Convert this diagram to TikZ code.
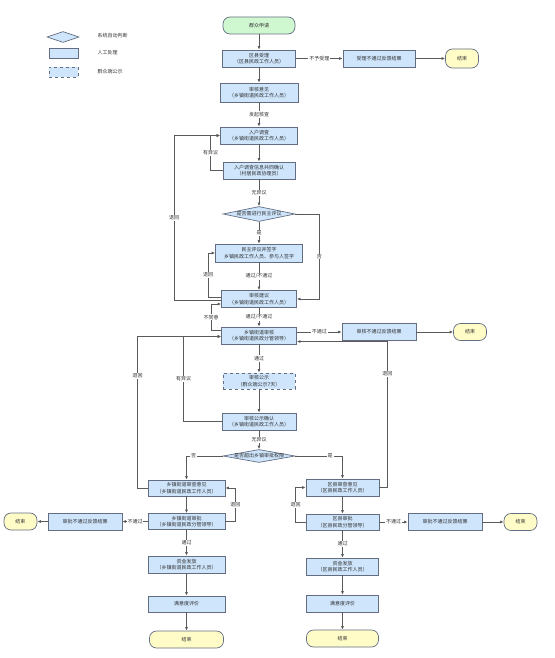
\documentclass[tikz,border=0pt]{standalone}
\usepackage{fontspec}
\setmainfont{Noto Sans CJK SC}
\usetikzlibrary{arrows.meta,shapes.geometric}
\definecolor{boxfill}{RGB}{206,229,252}
\definecolor{boxline}{RGB}{100,110,130}
\definecolor{startfill}{RGB}{208,248,208}
\definecolor{endfill}{RGB}{255,252,200}
\definecolor{flowline}{RGB}{90,90,90}
\definecolor{txt}{RGB}{50,50,50}
\begin{document}
\begin{tikzpicture}[x=1pt,y=-1pt,
  font=\fontsize{5}{6.5}\selectfont, text=txt,
  proc/.style={draw=boxline, fill=boxfill, line width=0.7pt, minimum width=#1, minimum height=17pt, inner sep=0pt, align=center},
  proc/.default=76pt,
  pub/.style={proc=72pt, dashed},
  term/.style={draw=boxline, line width=0.7pt, rounded corners=7pt, minimum width=#1, minimum height=17pt, inner sep=0pt},
  term/.default=33pt,
  judge/.style={diamond, draw=boxline, fill=boxfill, line width=0.7pt, minimum width=72pt, minimum height=14pt, inner sep=0pt},
  lbl/.style={fill=white, inner sep=0.8pt},
  flow/.style={draw=flowline, line width=0.7pt, -{Latex[length=3.5pt,width=3pt]}}]
\useasboundingbox (0,0) rectangle (554,658);

% legend
\node[judge, minimum width=32pt, minimum height=11pt] (legdia) at (63,37) {};
\node[anchor=west] (legdiatext) at (94,36) {系统自动判断};
\node[proc=29pt, minimum height=10pt] (legbox) at (63.5,53) {};
\node[anchor=west] (legboxtext) at (94,53) {人工处理};
\node[pub, minimum width=29pt, minimum height=10pt] (legpub) at (63.5,72) {};
\node[anchor=west] (legpubtext) at (94,72) {群众端公示};

% main column
\node[term=72pt, fill=startfill] (apply) at (259,25.5) {群众申请};
\node[proc=73pt] (accept) at (259,58.5) {区县受理\\（区县民政工作人员）};
\node[proc=72pt] (rejA) at (379,58.5) {受理不通过反馈结果};
\node[term, fill=endfill, minimum height=19pt] (endA) at (462,58.5) {结束};
\node[proc=78pt, minimum height=19pt] (opinion) at (259,92.5) {审核意见\\（乡镇街道民政工作人员）};
\node[proc=77pt] (visit) at (259,135.5) {入户调查\\（乡镇街道民政工作人员）};
\node[proc=72pt] (confirm) at (259,170.5) {入户调查信息共同确认\\（村居民政协理员）};
\node[judge, minimum height=15pt] (needvote) at (259,214) {\makebox[0pt]{是否需进行民主评议}};
\node[proc=87pt, minimum height=18pt] (vote) at (259,253) {民主评议并签字\\乡镇民政工作人员、参与人签字};
\node[proc=75pt] (advice) at (259,299) {审核建议\\（乡镇街道民政工作人员）};
\node[proc=75pt, minimum height=17pt] (townrev) at (259,335.5) {乡镇街道审核\\（乡镇街道民政分管领导）};
\node[proc=74pt] (rejB) at (379,332) {审核不通过反馈结果};
\node[term, fill=endfill] (endB) at (470,332) {结束};
\node[pub, minimum height=16pt] (publish) at (259,381) {审核公示\\（群众端公示7天）};
\node[proc=74pt] (pubconf) at (259,421.5) {审核公示确认\\（乡镇街道民政工作人员）};
\node[judge, minimum height=13pt] (limit) at (259,456) {\makebox[0pt]{是否超出乡镇审批权限}};

% town branch
\node[proc=77pt, minimum height=16pt] (townop) at (186.5,488) {乡镇街道审查意见\\（乡镇街道民政工作人员）};
\node[proc=77pt, minimum height=16pt] (townok) at (186.5,521.5) {乡镇街道审批\\（乡镇街道民政分管领导）};
\node[proc=74pt] (rejC) at (85,521.5) {审批不通过反馈结果};
\node[term, fill=endfill] (endC) at (20.5,521.5) {结束};
\node[proc=77pt] (payT) at (186.5,564.5) {资金发放\\（乡镇街道民政工作人员）};
\node[proc=77pt, minimum height=16pt] (rateT) at (186.5,604) {满意度评价};
\node[term=74pt, fill=endfill] (endT) at (186.5,639.5) {结束};

% county branch
\node[proc=73pt] (cntyop) at (342.5,487.5) {区县审查意见\\（区县民政工作人员）};
\node[proc=73pt, minimum height=16pt] (cntyok) at (342.5,522) {区县审批\\（区县民政分管领导）};
\node[proc=74pt] (rejD) at (445,522) {审批不通过反馈结果};
\node[term, fill=endfill] (endD) at (520.5,522) {结束};
\node[proc=72pt] (payC) at (342.5,566.5) {资金发放\\（区县民政工作人员）};
\node[proc=72pt] (rateC) at (342.5,603.5) {满意度评价};
\node[term=72pt, fill=endfill] (endCty) at (342.5,638.5) {结束};

\draw[flow] (apply) -- (accept);
\draw[flow] (accept) -- node[lbl]{不予受理} (rejA);
\draw[flow] (rejA) -- (endA);
\draw[flow] (accept) -- (opinion);
\draw[flow] (opinion) -- node[lbl]{发起核查} (visit);
\draw[flow] (visit) -- (confirm);
\draw[flow] (confirm.west) -- ++(-12,0) |- node[lbl,pos=0.25]{有异议} (visit.west);
\draw[flow] (confirm) -- node[lbl]{无异议} (needvote);
\draw[flow] (needvote) -- node[lbl]{是} (vote);
\draw[flow] (needvote.east) -- ++(24,0) |- node[lbl,pos=0.25]{否} (advice.east);
\draw[flow] (vote) -- node[lbl]{通过/不通过} (advice);
\draw[flow] ([yshift=2pt]advice.west) -- ++(-13,0) |- node[lbl,pos=0.25]{退回} (vote.west);
\draw[flow] ([yshift=-1pt]advice.west) -- ++(-47,0) |- node[lbl,pos=0.25]{退回} (visit.west);
\draw[flow] (advice) -- node[lbl]{通过/不通过} (townrev);
\draw[flow] ([yshift=5pt]townrev.west) -- ++(-10,0) |- node[lbl,pos=0.25]{不同意} ([yshift=-5pt]advice.west);
\draw[flow] (townrev.east |- rejB) -- node[lbl]{不通过} (rejB);
\draw[flow] (rejB) -- (endB);
\draw[flow] (townrev) -- node[lbl]{通过} (publish);
\draw[flow] (publish) -- (pubconf);
\draw[flow] (pubconf.west) -- ++(-38,0) |- node[lbl,pos=0.25]{有异议} ([yshift=-1pt]townrev.west);
\draw[flow] (pubconf) -- node[lbl]{无异议} (limit);
\draw[flow] (limit.west) -| node[lbl,pos=0.4]{否} (townop.north);
\draw[flow] (limit.east) -| node[lbl,pos=0.37]{是} (cntyop.north);

\draw[flow] (townop) -- (townok);
\draw[flow] (townop.west) -- ++(-10,0) |- node[lbl,pos=0.37]{退回} ([yshift=-1pt]townrev.west);
\draw[flow] (townok.east) -- ++(10,0) |- node[lbl,pos=0.25]{退回} (townop.east);
\draw[flow] (townok) -- node[lbl]{不通过} (rejC);
\draw[flow] (rejC) -- (endC);
\draw[flow] (townok) -- node[lbl]{通过} (payT);
\draw[flow] (payT) -- (rateT);
\draw[flow] (rateT) -- (endT);

\draw[flow] (cntyop) -- (cntyok);
\draw[flow] (cntyop.east) -- ++(8,0) |- node[lbl,pos=0.39]{退回} ([yshift=-6pt]townrev.east);
\draw[flow] (cntyok.west) -- ++(-10,0) |- node[lbl,pos=0.25]{退回} (cntyop.west);
\draw[flow] (cntyok) -- node[lbl]{不通过} (rejD);
\draw[flow] (rejD) -- (endD);
\draw[flow] (cntyok) -- node[lbl]{通过} (payC);
\draw[flow] (payC) -- (rateC);
\draw[flow] (rateC) -- (endCty);
\end{tikzpicture}
\end{document}
